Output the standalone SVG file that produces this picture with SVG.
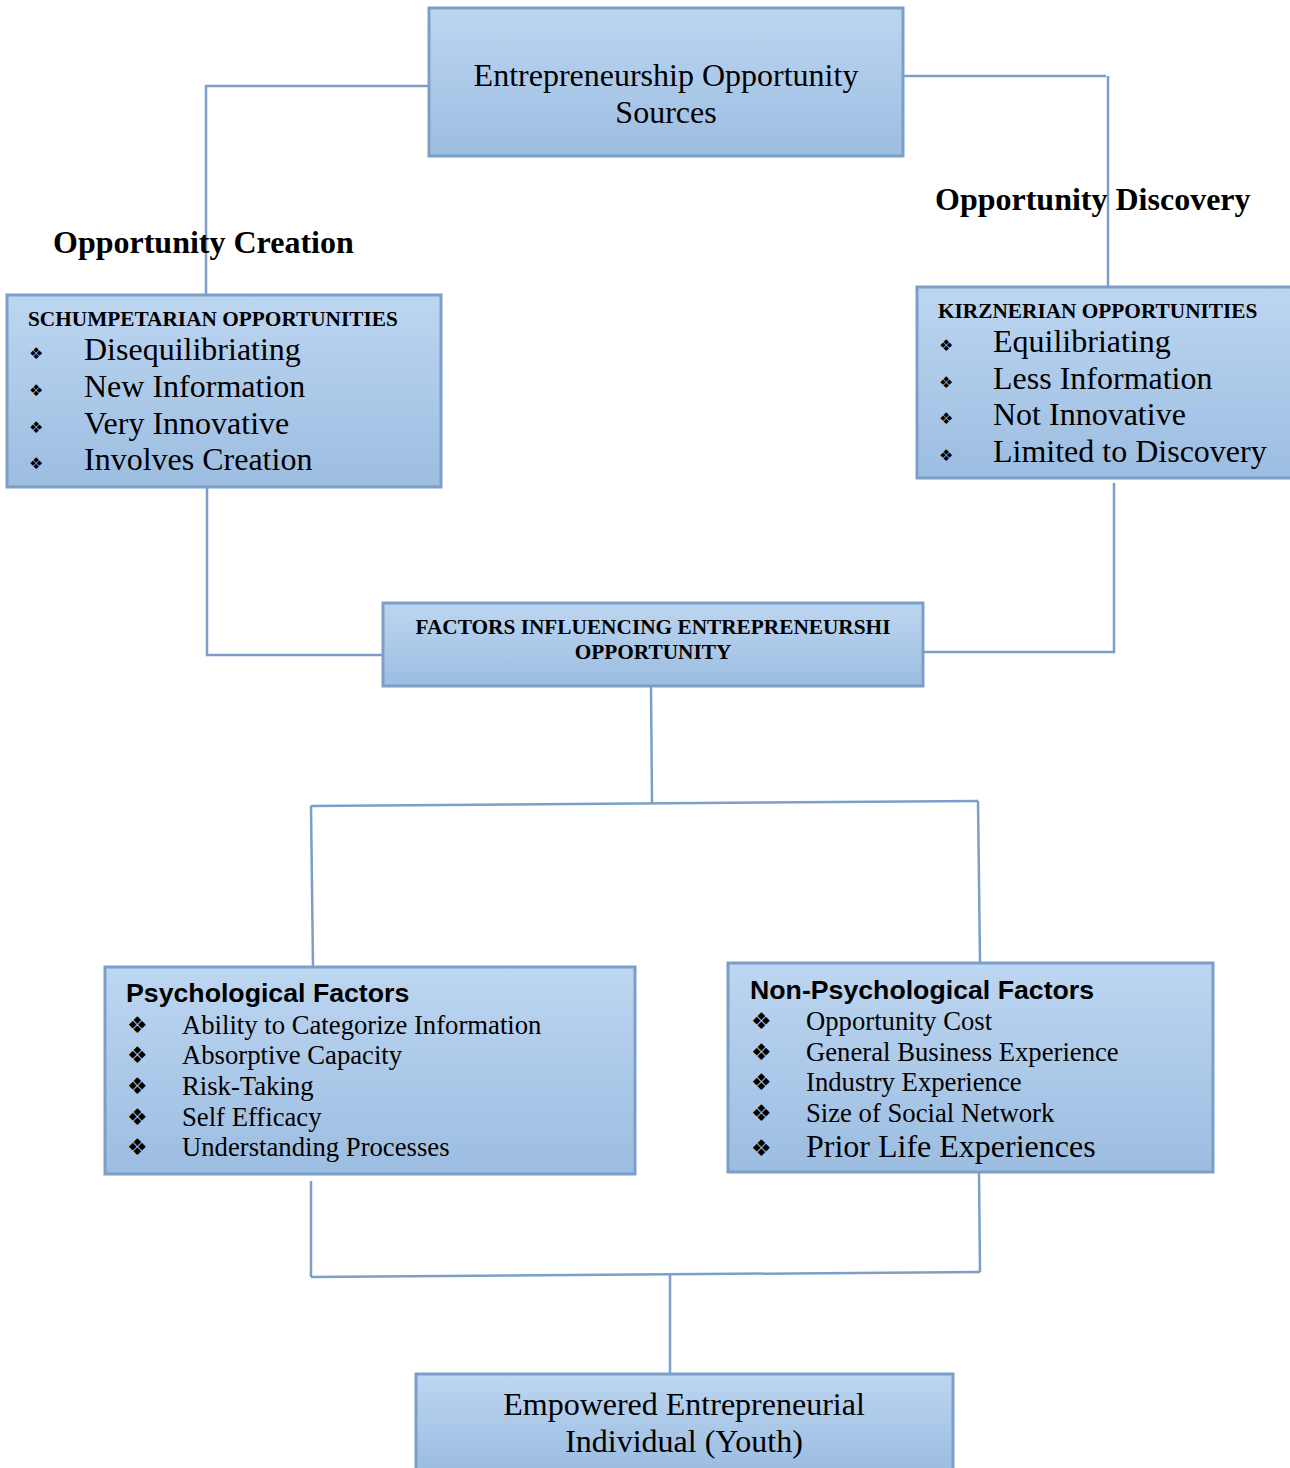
<svg xmlns="http://www.w3.org/2000/svg" width="1290" height="1468" viewBox="0 0 1290 1468">
<defs>
<linearGradient id="g" x1="0" y1="0" x2="0" y2="1">
<stop offset="0" stop-color="#bdd6f1"/>
<stop offset="1" stop-color="#9cbde1"/>
</linearGradient>
</defs>
<style>
.box{fill:url(#g);stroke:#7b9fc7;stroke-width:3}
.ln{fill:none;stroke:#7b9fc7;stroke-width:2.5}
.t{font-family:"Liberation Serif","Times New Roman",serif;fill:#000}
.b{font-family:"Liberation Serif","Times New Roman",serif;font-weight:bold;fill:#000}
.s{font-family:"Liberation Sans",Arial,sans-serif;font-weight:bold;fill:#000}
.bu{font-family:"DejaVu Sans",sans-serif;fill:#000}
</style>
<rect width="1290" height="1468" fill="#fff"/>
<g id="connectors">
<polyline class="ln" points="429,86 206,86 206,295"/>
<polyline class="ln" points="903,76 1106,76"/>
<line class="ln" x1="1108" y1="76" x2="1108" y2="287"/>
<polyline class="ln" points="207,487 207,655 383,655"/>
<polyline class="ln" points="1114,483 1114,652 923,652"/>
<line class="ln" x1="651" y1="686" x2="652" y2="803"/>
<line class="ln" x1="311" y1="806" x2="978" y2="801"/>
<line class="ln" x1="311" y1="806" x2="313" y2="967"/>
<line class="ln" x1="978" y1="801" x2="980" y2="963"/>
<line class="ln" x1="311" y1="1181" x2="311" y2="1277"/>
<line class="ln" x1="311" y1="1277" x2="980" y2="1272"/>
<line class="ln" x1="979" y1="1172" x2="980" y2="1272"/>
<line class="ln" x1="670" y1="1275" x2="670" y2="1374"/>
</g>
<g id="label-creation"><text class="b" x="53" y="253" font-size="32">Opportunity Creation</text></g>
<g id="label-discovery"><text class="b" x="935" y="210" font-size="32">Opportunity Discovery</text></g>
<g id="node-sources">
<rect class="box" x="429" y="8" width="474" height="148"/>
<text class="t" x="666" y="86" font-size="32" text-anchor="middle">Entrepreneurship Opportunity</text>
<text class="t" x="666" y="123" font-size="32" text-anchor="middle">Sources</text>
</g>
<g id="node-schumpeterian">
<rect class="box" x="7" y="295" width="434" height="192"/>
<text class="b" x="28" y="326" font-size="21.3">SCHUMPETARIAN OPPORTUNITIES</text>
<g class="bu" font-size="16">
<text x="29" y="359">❖</text><text x="29" y="396">❖</text><text x="29" y="433">❖</text><text x="29" y="469">❖</text>
</g>
<g class="t" font-size="32">
<text x="84" y="360">Disequilibriating</text>
<text x="84" y="397">New Information</text>
<text x="84" y="434">Very Innovative</text>
<text x="84" y="470">Involves Creation</text>
</g>
</g>
<g id="node-kirznerian">
<rect class="box" x="917" y="287" width="376" height="191"/>
<text class="b" x="938" y="318" font-size="21.3">KIRZNERIAN OPPORTUNITIES</text>
<g class="bu" font-size="16">
<text x="939" y="351">❖</text><text x="939" y="388">❖</text><text x="939" y="424">❖</text><text x="939" y="461">❖</text>
</g>
<g class="t" font-size="32">
<text x="993" y="352">Equilibriating</text>
<text x="993" y="389">Less Information</text>
<text x="993" y="425">Not Innovative</text>
<text x="993" y="462">Limited to Discovery</text>
</g>
</g>
<g id="node-factors">
<rect class="box" x="383" y="603" width="540" height="83"/>
<text class="b" x="653" y="634" font-size="21.3" text-anchor="middle">FACTORS INFLUENCING ENTREPRENEURSHI</text>
<text class="b" x="653" y="659" font-size="21.3" text-anchor="middle">OPPORTUNITY</text>
</g>
<g id="node-psych">
<rect class="box" x="105" y="967" width="530" height="207"/>
<text class="s" x="126" y="1002" font-size="26.7">Psychological Factors</text>
<g class="bu" font-size="23">
<text x="127" y="1033">❖</text><text x="127" y="1063">❖</text><text x="127" y="1094">❖</text><text x="127" y="1125">❖</text><text x="127" y="1155">❖</text>
</g>
<g class="t" font-size="26.7">
<text x="182" y="1034">Ability to Categorize Information</text>
<text x="182" y="1064">Absorptive Capacity</text>
<text x="182" y="1095">Risk-Taking</text>
<text x="182" y="1126">Self Efficacy</text>
<text x="182" y="1156">Understanding Processes</text>
</g>
</g>
<g id="node-nonpsych">
<rect class="box" x="728" y="963" width="485" height="209"/>
<text class="s" x="750" y="999" font-size="26.7">Non-Psychological Factors</text>
<g class="bu" font-size="23">
<text x="751" y="1029">❖</text><text x="751" y="1060">❖</text><text x="751" y="1090">❖</text><text x="751" y="1121">❖</text><text x="751" y="1156">❖</text>
</g>
<g class="t" font-size="26.7">
<text x="806" y="1030">Opportunity Cost</text>
<text x="806" y="1061">General Business Experience</text>
<text x="806" y="1091">Industry Experience</text>
<text x="806" y="1122">Size of Social Network</text>
<text x="806" y="1157" font-size="32">Prior Life Experiences</text>
</g>
</g>
<g id="node-empowered">
<rect class="box" x="416" y="1374" width="537" height="96"/>
<text class="t" x="684" y="1415" font-size="32" text-anchor="middle">Empowered Entrepreneurial</text>
<text class="t" x="684" y="1452" font-size="32" text-anchor="middle">Individual (Youth)</text>
</g>
</svg>
